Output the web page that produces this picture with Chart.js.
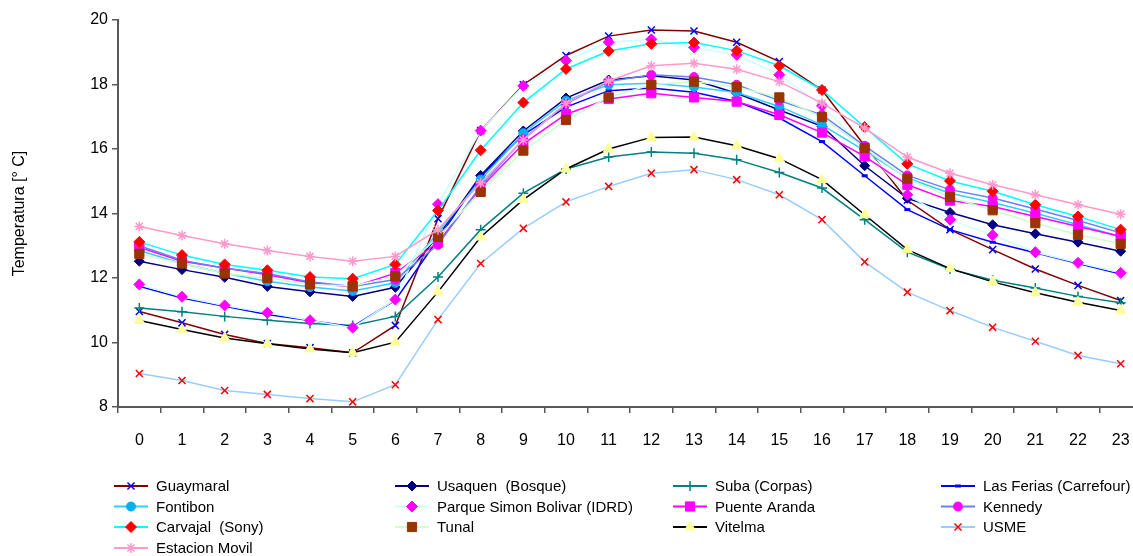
<!DOCTYPE html>
<html>
<head>
<meta charset="utf-8">
<script src="https://cdn.jsdelivr.net/npm/chart.js@4/dist/chart.umd.min.js"></script>
<style>
html, body { margin: 0; padding: 0; background: #fff; overflow: hidden; }
#wrap { position: absolute; left: 0; top: 0; width: 1150px; height: 556px; }
</style>
</head>
<body>
<div id="wrap"><canvas id="chart" width="1150" height="556"></canvas></div>
<script>
const hours = ['0','1','2','3','4','5','6','7','8','9','10','11','12','13','14','15','16','17','18','19','20','21','22','23'];
const yTicks = [8, 10, 12, 14, 16, 18, 20];

const guaymaral = [10.96,10.61,10.25,9.97,9.84,9.68,10.53,13.84,16.57,17.99,18.9,19.5,19.69,19.66,19.31,18.71,17.83,16.1,14.41,13.5,12.88,12.28,11.77,11.3];
const usaquen = [12.52,12.26,12.02,11.74,11.57,11.43,11.71,13.3,15.18,16.56,17.58,18.14,18.27,18.14,17.73,17.21,16.7,15.48,14.47,14.03,13.65,13.37,13.11,12.83];
const suba = [11.07,10.95,10.81,10.69,10.59,10.53,10.81,12.03,13.5,14.63,15.38,15.75,15.91,15.87,15.67,15.27,14.79,13.81,12.8,12.28,11.93,11.69,11.43,11.23];
const lasFerias = [11.74,11.38,11.12,10.87,10.68,10.49,11.31,13.2,15.15,16.44,17.3,17.81,17.89,17.76,17.47,16.96,16.23,15.17,14.12,13.5,13.11,12.78,12.45,12.12];
const fontibon = [12.85,12.45,12.15,11.9,11.72,11.6,11.85,13.4,15.05,16.49,17.5,17.99,18.04,17.92,17.75,17.32,16.75,15.95,15.1,14.63,14.34,14.01,13.65,13.29];
const simonBolivar = [11.8,11.42,11.15,10.92,10.69,10.46,11.33,14.29,16.57,17.96,18.74,19.31,19.4,19.15,18.92,18.3,17.34,16.0,14.58,13.81,13.33,12.8,12.47,12.16];
const puenteAranda = [12.95,12.52,12.31,12.1,11.85,11.72,12.15,13.1,14.8,16.16,17.08,17.55,17.73,17.6,17.47,17.06,16.51,15.77,14.89,14.4,14.22,13.91,13.6,13.29];
const kennedy = [13.0,12.55,12.3,12.14,11.88,11.74,11.95,13.03,14.85,16.3,17.4,18.09,18.3,18.23,17.99,17.5,17.06,16.1,15.18,14.74,14.48,14.14,13.78,13.4];
const carvajal = [13.12,12.71,12.42,12.24,12.03,11.98,12.42,14.09,15.96,17.44,18.48,19.04,19.26,19.3,19.05,18.58,17.83,16.68,15.54,15.01,14.69,14.27,13.91,13.5];
const tunal = [12.75,12.45,12.14,12.0,11.8,11.75,12.05,13.27,14.67,15.95,16.9,17.6,17.99,18.09,17.92,17.6,16.99,16.03,15.08,14.51,14.1,13.7,13.34,13.06];
const vitelma = [10.68,10.4,10.14,9.96,9.8,9.68,10.01,11.57,13.27,14.43,15.38,16.0,16.36,16.37,16.1,15.7,15.05,13.96,12.88,12.29,11.88,11.54,11.25,10.99];
const usme = [9.04,8.82,8.51,8.39,8.26,8.16,8.69,10.71,12.45,13.54,14.36,14.84,15.25,15.36,15.05,14.58,13.81,12.5,11.56,10.99,10.47,10.04,9.6,9.34];
const estacionMovil = [13.6,13.32,13.06,12.85,12.67,12.52,12.67,13.5,14.95,16.28,17.42,18.11,18.58,18.66,18.47,18.09,17.42,16.65,15.75,15.25,14.89,14.58,14.27,13.98];

const FONT = '"Liberation Sans", Arial, sans-serif';
const AXIS = '#595959';

function series(label, data, line, marker, style, radius, bw) {
    return {
        label: label,
        data: data,
        borderColor: line,
        backgroundColor: line,
        borderWidth: 1.5,
        pointStyle: style,
        pointRadius: radius,
        pointHoverRadius: radius,
        pointBackgroundColor: marker,
        pointBorderColor: marker,
        pointBorderWidth: bw,
        tension: 0,
        fill: false
    };
}

const datasets = [
    series('Guaymaral', guaymaral, '#800000', '#0000FF', 'crossRot', 5, 1.5),
    series('Usaquen  (Bosque)', usaquen, '#000080', '#000080', 'rectRot', 5, 1),
    series('Suba (Corpas)', suba, '#008080', '#008080', 'cross', 5, 1.5),
    series('Las Ferias (Carrefour)', lasFerias, '#0000FF', '#0000FF', 'line', 3, 3),
    series('Fontibon', fontibon, '#33CCFF', '#00B0F0', 'circle', 4.5, 1),
    series('Parque Simon Bolivar (IDRD)', simonBolivar, '#CCFFFF', '#FF00FF', 'rectRot', 5.5, 1),
    series('Puente Aranda', puenteAranda, '#FF00FF', '#FF00FF', 'rect', 6.5, 1),
    series('Kennedy', kennedy, '#6680FF', '#FF00FF', 'circle', 4.5, 1),
    series('Carvajal  (Sony)', carvajal, '#00FFFF', '#FF0000', 'rectRot', 5.5, 1),
    series('Tunal', tunal, '#CCFFCC', '#993300', 'rect', 6.5, 1),
    series('Vitelma', vitelma, '#000000', '#FFFF99', 'triangle', 6, 1),
    series('USME', usme, '#99CCFF', '#FF0000', 'crossRot', 5, 1.5),
    series('Estacion Movil', estacionMovil, '#FF99CC', '#FF99CC', 'star', 5, 1.5)
];
// later series drawn on top, like the original
datasets.forEach((d, i) => { d.order = datasets.length - i; });

const legendCols = [114, 395, 673, 941];
const legendRows = [486, 506.5, 527, 548];

const gridLegend = {
    id: 'gridLegend',
    afterDraw(chart) {
        const ctx = chart.ctx;
        ctx.save();
        chart.data.datasets.forEach((ds, i) => {
            const x = legendCols[i % 4];
            const y = legendRows[Math.floor(i / 4)];
            ctx.strokeStyle = ds.borderColor;
            ctx.lineWidth = 2;
            ctx.beginPath();
            ctx.moveTo(x, y);
            ctx.lineTo(x + 34, y);
            ctx.stroke();
            ctx.fillStyle = ds.pointBackgroundColor;
            ctx.strokeStyle = ds.pointBorderColor;
            ctx.lineWidth = ds.pointBorderWidth;
            Chart.helpers.drawPoint(ctx, {
                pointStyle: ds.pointStyle,
                radius: ds.pointRadius,
                borderWidth: ds.pointBorderWidth,
                rotation: 0
            }, x + 17, y);
            ctx.fillStyle = '#000';
            ctx.font = '15px ' + FONT;
            ctx.textBaseline = 'middle';
            ctx.textAlign = 'left';
            ctx.fillText(ds.label, x + 42, y + 1);
        });
        ctx.restore();
    }
};

new Chart(document.getElementById('chart'), {
    type: 'line',
    data: { labels: hours, datasets: datasets },
    plugins: [gridLegend],
    options: {
        responsive: false,
        animation: false,
        events: [],
        layout: { padding: { top: 20, right: 8, bottom: 99, left: 0 } },
        plugins: {
            legend: { display: false },
            tooltip: { enabled: false }
        },
        scales: {
            x: {
                type: 'category',
                offset: true,
                afterFit: (s) => { s.height = 50; },
                grid: { offset: true, drawOnChartArea: false, drawTicks: true, tickLength: 6, color: AXIS, lineWidth: 1.5 },
                border: { display: true, color: AXIS, width: 2 },
                ticks: { color: '#000', font: { family: FONT, size: 16 }, padding: 18, maxRotation: 0, autoSkip: false }
            },
            y: {
                min: 8,
                max: 20,
                afterFit: (s) => { s.width = 118; },
                afterBuildTicks: (s) => { s.ticks = yTicks.map(v => ({ value: v })); },
                grid: { drawOnChartArea: false, drawTicks: true, tickLength: 6, color: AXIS, lineWidth: 1.5 },
                border: { display: true, color: AXIS, width: 2 },
                ticks: { color: '#000', font: { family: FONT, size: 16 }, padding: 4 },
                title: {
                    display: true,
                    text: 'Temperatura [° C]',
                    color: '#000',
                    font: { family: FONT, size: 16 },
                    padding: { top: 10, bottom: 0 }
                }
            }
        }
    }
});
</script>
</body>
</html>
